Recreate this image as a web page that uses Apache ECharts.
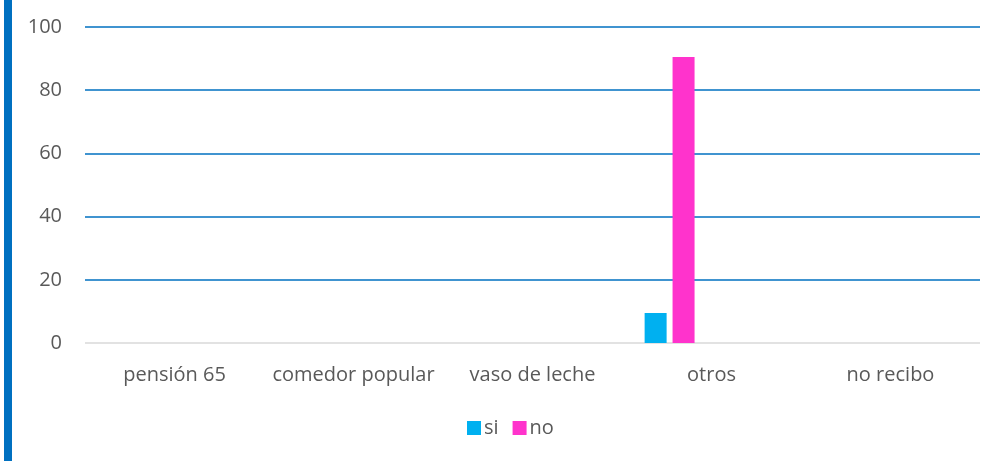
<!DOCTYPE html>
<html><head><meta charset="utf-8">
<script src="https://cdn.jsdelivr.net/npm/echarts@6/dist/echarts.min.js"></script>
<style>html,body{margin:0;padding:0;background:#fff}#c{width:1000px;height:461px}
#bar{position:absolute;left:4px;top:0;width:8px;height:461px;background:#0070C0}</style>
</head><body><div id="c"></div><div id="bar"></div>
<script>
const categories = ['pensión 65','comedor popular','vaso de leche','otros','no recibo'];
const siValues = [null, null, null, 9.5, null];
const noValues = [null, null, null, 90.5, null];
const emptyA = [null, null, null, null, null];
const emptyB = [null, null, null, null, null];
const emptyC = [null, null, null, null, null];
const yTicks = [0, 20, 40, 60, 80, 100];

const font = 'Open Sans';
const chart = echarts.init(document.getElementById('c'));
const mk = (name, data, color) => ({name, type:'bar', data, barWidth:22, barGap:'27%', itemStyle:{color}});
chart.setOption({
  animation:false,
  grid:{left:85, right:20, top:27, bottom:118},
  legend:{data:['si','no'], bottom:18, left:462, itemWidth:14, itemHeight:14, itemGap:14,
    icon:'rect', textStyle:{color:'#595959', fontSize:20, fontFamily:font, padding:[0,0,0,-2]}},
  xAxis:{type:'category', data:categories,
    axisLine:{show:false}, axisTick:{show:false},
    axisLabel:{color:'#595959', fontSize:20, fontFamily:font, margin:22, interval:0}},
  yAxis:{type:'value', min:yTicks[0], max:yTicks[yTicks.length-1], interval:20,
    axisLine:{show:false}, axisTick:{show:false},
    splitLine:{lineStyle:{color:['#d9d9d9','#0070C0','#0070C0','#0070C0','#0070C0','#0070C0'], width:1.5}},
    axisLabel:{color:'#595959', fontSize:20, fontFamily:font, margin:23}},
  series:[mk('si', siValues, '#00B0F0'), mk('no', noValues, '#FF33CC'),
    mk('s3', emptyA, '#aaa'), mk('s4', emptyB, '#aaa'), mk('s5', emptyC, '#aaa')]
});
</script></body></html>
